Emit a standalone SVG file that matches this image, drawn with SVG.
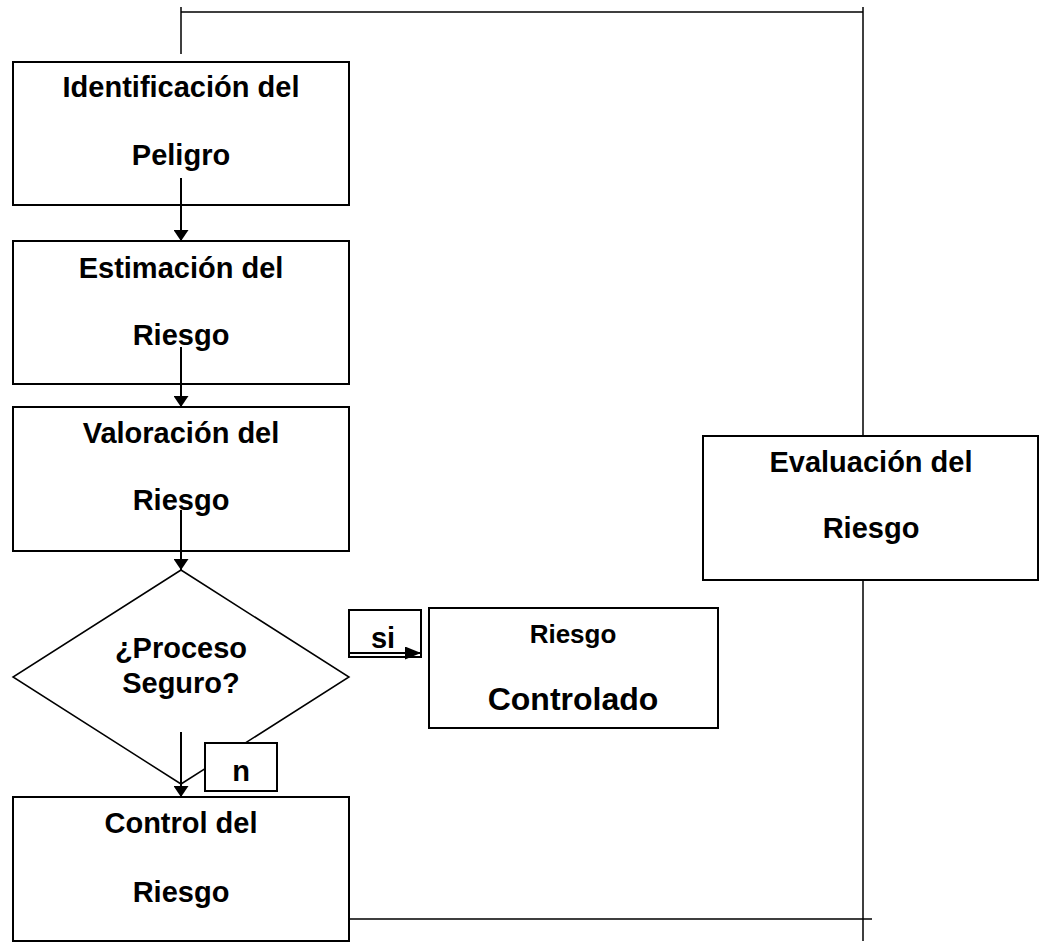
<svg xmlns="http://www.w3.org/2000/svg" width="1039" height="943" viewBox="0 0 1039 943">
<defs>
<marker id="ah" markerUnits="userSpaceOnUse" markerWidth="15" markerHeight="15" refX="11" refY="7.5" orient="auto">
<path d="M0,0 L11,7.5 L0,15 Z" fill="#000"/>
</marker>
<marker id="ah2" markerUnits="userSpaceOnUse" markerWidth="16" markerHeight="13" refX="16" refY="6.5" orient="auto">
<path d="M0,0 L16,6.5 L0,13 Z" fill="#000"/>
</marker>
</defs>
<style>
.box{fill:#fff;stroke:#000;stroke-width:2}
.t{font-family:"Liberation Sans",Arial,sans-serif;font-weight:bold;font-size:29px;fill:#000;text-anchor:middle}
.ln{fill:none;stroke:#000;stroke-width:1.5}
.ar{fill:none;stroke:#000;stroke-width:2}
</style>
<rect width="1039" height="943" fill="#fff"/>
<g id="connectors-back">
<path class="ln" d="M181,7 V54 M181,12 H863 M863,7 V436"/>
<path class="ln" d="M863,580 V941 M349,919 H872"/>
</g>
<g id="n1">
<rect class="box" x="13" y="62" width="336" height="143"/>
<text class="t" x="181" y="97">Identificación del</text>
<text class="t" x="181" y="165">Peligro</text>
</g>
<g id="n2">
<rect class="box" x="13" y="241" width="336" height="143"/>
<text class="t" x="181" y="278">Estimación del</text>
<text class="t" x="181" y="345">Riesgo</text>
</g>
<g id="n3">
<rect class="box" x="13" y="407" width="336" height="144"/>
<text class="t" x="181" y="443">Valoración del</text>
<text class="t" x="181" y="510">Riesgo</text>
</g>
<g id="n4">
<polygon class="box" style="stroke-width:1.5" points="181,570 349,677 181,784 13,677"/>
<text class="t" x="181" y="658">¿Proceso</text>
<text class="t" x="181" y="693">Seguro?</text>
</g>
<g id="lbl-n">
<rect class="box" x="205" y="743" width="72" height="48"/>
<text class="t" x="241" y="781">n</text>
</g>
<g id="lbl-si">
<rect class="box" x="349" y="610" width="72" height="47"/>
<text class="t" x="383" y="648">si</text>
</g>
<g id="n5">
<rect class="box" x="429" y="608" width="289" height="120"/>
<text class="t" x="573" y="643" style="font-size:26px">Riesgo</text>
<text class="t" x="573" y="710" style="font-size:32px">Controlado</text>
</g>
<g id="n6">
<rect class="box" x="13" y="797" width="336" height="144"/>
<text class="t" x="181" y="833">Control del</text>
<text class="t" x="181" y="902">Riesgo</text>
</g>
<g id="n7">
<rect class="box" x="703" y="436" width="335" height="144"/>
<text class="t" x="871" y="472">Evaluación del</text>
<text class="t" x="871" y="538">Riesgo</text>
</g>
<g id="connectors">
<line class="ar" x1="181" y1="178" x2="181" y2="241" marker-end="url(#ah)"/>
<line class="ar" x1="181" y1="347" x2="181" y2="407" marker-end="url(#ah)"/>
<line class="ar" x1="181" y1="510" x2="181" y2="570" marker-end="url(#ah)"/>
<line class="ar" x1="181" y1="732" x2="181" y2="797" marker-end="url(#ah)"/>
<line class="ar" x1="349" y1="653" x2="421" y2="653" marker-end="url(#ah2)"/>
</g>
</svg>
